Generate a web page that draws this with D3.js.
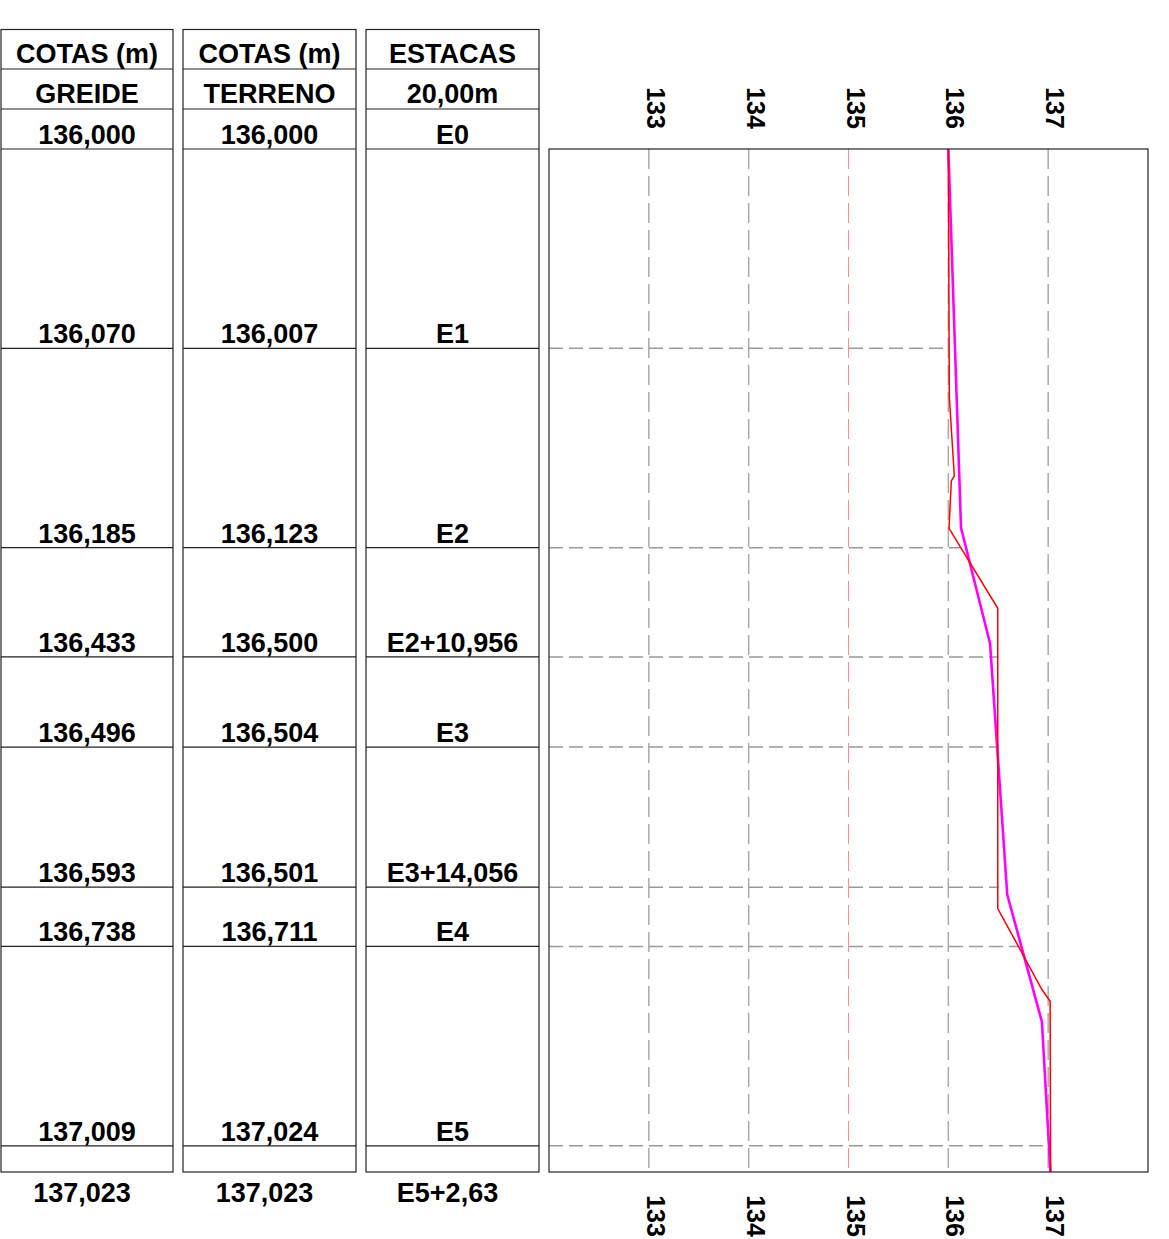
<!DOCTYPE html>
<html><head><meta charset="utf-8">
<script src="https://cdn.jsdelivr.net/npm/d3@7"></script>
<style>body{margin:0;background:#fff} text{font-family:"Liberation Sans",Arial,sans-serif;fill:#000;font-weight:bold}</style>
</head><body>
<svg id="c" width="1169" height="1239"></svg>
<script>
// ---- data ----
const headerTop = ["COTAS (m)", "COTAS (m)", "ESTACAS"];
const headerSub = ["GREIDE", "TERRENO", "20,00m"];
const stations = ["E0", "E1", "E2", "E2+10,956", "E3", "E3+14,056", "E4", "E5"];
const stationDist = [0, 20, 40, 50.956, 60, 74.056, 80, 100];
const greideCotas = [136.000, 136.070, 136.185, 136.433, 136.496, 136.593, 136.738, 137.009];
const terrenoCotas = [136.000, 136.007, 136.123, 136.500, 136.504, 136.501, 136.711, 137.024];
const endStation = "E5+2,63";
const endDist = 102.63;
const endGreide = 137.023;
const endTerreno = 137.023;
const greideProfileDist = [0, 38.0, 49.6, 74.8, 87.55, 102.63];
const greideProfileElev = [136.000, 136.127, 136.418, 136.590, 136.937, 137.023];
const terrenoProfileDist = [0, 24.9, 32.8, 33.3, 38.05, 46.08, 76.2, 84.3, 85.5, 102.63];
const terrenoProfileElev = [136.000, 136.010, 136.060, 136.030, 136.007, 136.495, 136.495, 136.936, 137.020, 137.024];
const elevTicks = [133, 134, 135, 136, 137];

// ---- drawing ----
const svg = d3.select("#c");
const y = d3.scaleLinear().domain([0, endDist]).range([149, 1172]);
const x = d3.scaleLinear().domain([132, 138]).range([549, 1148]);
const loc = d3.formatLocale({decimal: ",", thousands: ".", grouping: [3], currency: ["", ""]});
const fmt = loc.format(".3f");

const cols = [
  {x0: 1, x1: 173, vals: greideCotas.map(fmt), end: fmt(endGreide)},
  {x0: 183, x1: 356, vals: terrenoCotas.map(fmt), end: fmt(endTerreno)},
  {x0: 366, x1: 539, vals: stations, end: endStation}
];
const FS = 27;
cols.forEach((c, i) => {
  const g = svg.append("g");
  const cx = (c.x0 + c.x1) / 2;
  g.append("rect").attr("x", c.x0).attr("y", 29.5).attr("width", c.x1 - c.x0).attr("height", 1172 - 29.5)
    .attr("fill", "none").attr("stroke", "#222").attr("stroke-width", 1.2);
  const ys = [69, 109].concat(stationDist.map(d => y(d)));
  g.selectAll("line.row").data(ys).join("line").attr("class", "row")
    .attr("x1", c.x0).attr("x2", c.x1).attr("y1", d => d).attr("y2", d => d)
    .attr("stroke", "#222").attr("stroke-width", 1.2);
  g.append("text").attr("x", cx).attr("y", 63).attr("text-anchor", "middle").attr("font-size", FS).text(headerTop[i]);
  g.append("text").attr("x", cx).attr("y", 103).attr("text-anchor", "middle").attr("font-size", FS).text(headerSub[i]);
  g.selectAll("text.val").data(c.vals).join("text").attr("class", "val")
    .attr("x", cx).attr("y", (d, k) => y(stationDist[k]) - 5)
    .attr("text-anchor", "middle").attr("font-size", FS).text(d => d);
  g.append("text").attr("x", cx - 5).attr("y", 1202).attr("text-anchor", "middle").attr("font-size", FS).text(c.end);
});

// plot
const p = svg.append("g");
p.selectAll("line.vg").data(elevTicks).join("line").attr("class", "vg")
  .attr("x1", d => x(d)).attr("x2", d => x(d)).attr("y1", y(0)).attr("y2", y(endDist))
  .attr("stroke", d => d === 135 ? "#ff8a8a" : "#aaa")
  .attr("stroke-width", d => d === 135 ? 1 : 1.5)
  .attr("stroke-dasharray", "20,7");
p.selectAll("line.hg").data(stationDist.slice(1)).join("line").attr("class", "hg")
  .attr("x1", x(132)).attr("x2", (d, k) => x(terrenoCotas[k + 1]))
  .attr("y1", d => y(d)).attr("y2", d => y(d))
  .attr("stroke", "#999").attr("stroke-width", 1.5).attr("stroke-dasharray", "14,6");

const line = d3.line().x(d => x(d[1])).y(d => y(d[0]));
p.append("path").datum(greideProfileDist.map((d, k) => [d, greideProfileElev[k]]))
  .attr("d", line).attr("fill", "none").attr("stroke", "#ff00ff").attr("stroke-width", 2.6);
p.append("path").datum(terrenoProfileDist.map((d, k) => [d, terrenoProfileElev[k]]))
  .attr("d", line).attr("fill", "none").attr("stroke", "#ff0000").attr("stroke-width", 1.5);

p.append("rect").attr("x", x(132)).attr("y", y(0)).attr("width", x(138) - x(132)).attr("height", y(endDist) - y(0))
  .attr("fill", "none").attr("stroke", "#222").attr("stroke-width", 1.2);

// rotated tick labels (top and bottom)
[108, 1216].forEach(cy => {
  p.selectAll(null).data(elevTicks).join("text")
    .attr("transform", d => `translate(${x(d) - 2},${cy}) rotate(90)`)
    .attr("text-anchor", "middle").attr("font-size", 25).text(d => d);
});
</script>
</body></html>
